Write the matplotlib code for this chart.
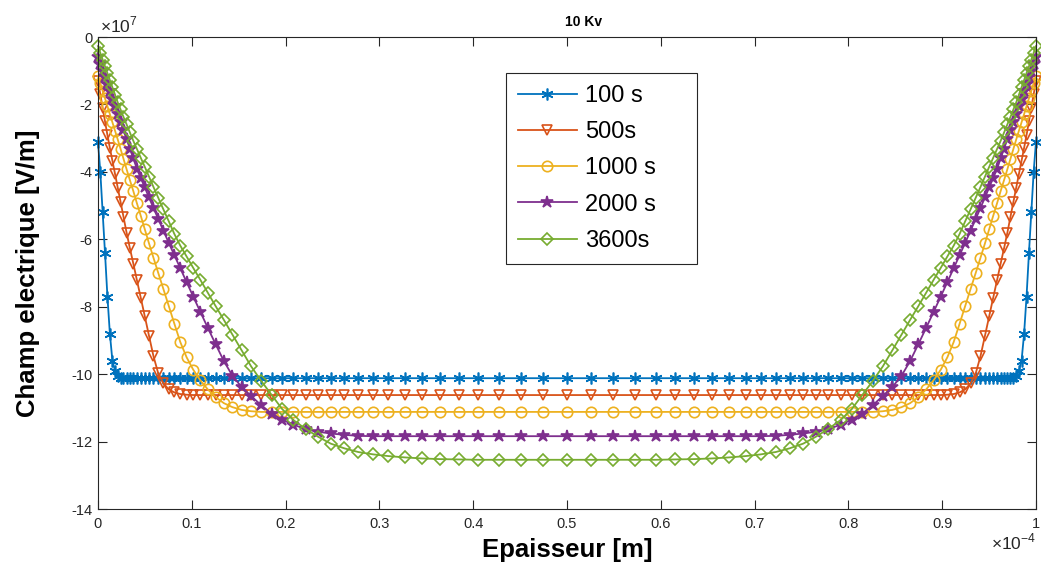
import matplotlib.pyplot as plt
from matplotlib.ticker import FixedLocator, FixedFormatter

plt.rcParams['font.family'] = ['Liberation Sans', 'DejaVu Sans']
plt.rcParams['mathtext.fontset'] = 'custom'
plt.rcParams['mathtext.rm'] = 'Liberation Sans'
plt.rcParams['axes.unicode_minus'] = False

# mesh over the first half of the sample (x in 1e-4 m), the field is symmetric
x_half = [0.0, 0.0025, 0.0050, 0.0075, 0.0101, 0.0127, 0.0154, 0.0182, 0.0211, 0.0241,
          0.0272, 0.0305, 0.0340, 0.0377, 0.0415, 0.0456, 0.0499, 0.0544, 0.0592, 0.0643,
          0.0697, 0.0754, 0.0814, 0.0878, 0.0945, 0.1016, 0.1091, 0.1170, 0.1254, 0.1342,
          0.1434, 0.1531, 0.1633, 0.1740, 0.1852, 0.1965, 0.2082, 0.2217, 0.2349, 0.2481,
          0.2626, 0.2775, 0.2935, 0.3095, 0.3273, 0.3451, 0.3646, 0.3852, 0.4054, 0.4278,
          0.4510, 0.4747, 0.5000]

# electric field (1e7 V/m) on that half mesh
e_100 = [-3.10, -4.00, -5.20, -6.40, -7.70, -8.80, -9.60, -9.90, -10.05, -10.10,
         -10.12, -10.12, -10.12, -10.12, -10.12, -10.12, -10.12, -10.12, -10.12, -10.12,
         -10.12, -10.12, -10.12, -10.12, -10.12, -10.12, -10.12, -10.12, -10.12, -10.12,
         -10.12, -10.12, -10.12, -10.12, -10.12, -10.12, -10.12, -10.12, -10.12, -10.12,
         -10.12, -10.12, -10.12, -10.12, -10.12, -10.12, -10.12, -10.12, -10.12, -10.12,
         -10.12, -10.12, -10.12]
e_500 = [-1.30, -1.70, -2.10, -2.50, -2.91, -3.29, -3.67, -4.06, -4.47, -4.89,
         -5.33, -5.80, -6.26, -6.72, -7.21, -7.73, -8.28, -8.86, -9.47, -9.98,
         -10.27, -10.45, -10.54, -10.59, -10.61, -10.62, -10.62, -10.62, -10.62, -10.62,
         -10.62, -10.62, -10.62, -10.62, -10.62, -10.62, -10.62, -10.62, -10.62, -10.62,
         -10.62, -10.62, -10.62, -10.62, -10.62, -10.62, -10.62, -10.62, -10.62, -10.62,
         -10.62, -10.62, -10.62]
e_1000 = [-1.15, -1.37, -1.60, -1.82, -2.05, -2.29, -2.53, -2.78, -3.04, -3.32,
          -3.61, -3.92, -4.24, -4.57, -4.93, -5.30, -5.70, -6.12, -6.55, -7.00,
          -7.47, -7.97, -8.50, -9.05, -9.50, -9.87, -10.18, -10.45, -10.68, -10.86,
          -10.98, -11.06, -11.10, -11.12, -11.12, -11.12, -11.12, -11.12, -11.12, -11.12,
          -11.12, -11.12, -11.12, -11.12, -11.12, -11.12, -11.12, -11.12, -11.12, -11.12,
          -11.12, -11.12, -11.12]
e_2000 = [-0.60, -0.80, -1.00, -1.20, -1.40, -1.61, -1.83, -2.05, -2.28, -2.52,
          -2.77, -3.03, -3.31, -3.60, -3.91, -4.18, -4.46, -4.76, -5.07, -5.40,
          -5.74, -6.10, -6.47, -6.86, -7.27, -7.70, -8.15, -8.62, -9.11, -9.61,
          -10.05, -10.38, -10.65, -10.92, -11.17, -11.35, -11.50, -11.63, -11.71, -11.76,
          -11.80, -11.83, -11.84, -11.84, -11.84, -11.84, -11.84, -11.84, -11.84, -11.84,
          -11.84, -11.84, -11.84]
e_3600 = [-0.27, -0.47, -0.67, -0.87, -1.07, -1.28, -1.49, -1.71, -1.94, -2.15,
          -2.37, -2.59, -2.83, -3.08, -3.32, -3.58, -3.85, -4.14, -4.45, -4.77,
          -5.11, -5.46, -5.84, -6.19, -6.51, -6.85, -7.20, -7.58, -7.98, -8.39,
          -8.83, -9.29, -9.77, -10.20, -10.62, -11.04, -11.36, -11.63, -11.86, -12.06,
          -12.20, -12.31, -12.38, -12.43, -12.47, -12.50, -12.52, -12.53, -12.54, -12.54,
          -12.54, -12.54, -12.54]

labels = ['100 s', '500s', '1000 s', '2000 s', '3600s']
colors = ['#0072BD', '#D95319', '#EDB120', '#7E2F8E', '#77AC30']
markers = [(6, 2, 0), 'v', 'o', '*', 'D']
msizes = [8.5, 7.5, 7.5, 9, 6.5]
faces = ['none', 'none', 'none', '#7E2F8E', 'none']
series = [e_100, e_500, e_1000, e_2000, e_3600]

# full thickness: mirror the half mesh
x_full = x_half + [1.0 - v for v in x_half[-2::-1]]

fig = plt.figure(figsize=(10.41, 5.65), dpi=100)
ax = fig.add_axes([0.0941, 0.0991, 0.9011, 0.8354])

for e, lab, c, m, ms, fc in zip(series, labels, colors, markers, msizes, faces):
    y_full = e + e[-2::-1]
    ax.plot(x_full, y_full, color=c, lw=1.3, marker=m, markersize=ms,
            markerfacecolor=fc, markeredgecolor=c, markeredgewidth=1.2,
            label=lab, clip_on=False)

ax.set_xlim(0, 1)
ax.set_ylim(-14, 0)
xt = [0, 0.1, 0.2, 0.3, 0.4, 0.5, 0.6, 0.7, 0.8, 0.9, 1]
yt = [-14, -12, -10, -8, -6, -4, -2, 0]
ax.xaxis.set_major_locator(FixedLocator(xt))
ax.xaxis.set_major_formatter(FixedFormatter(['0', '0.1', '0.2', '0.3', '0.4', '0.5',
                                             '0.6', '0.7', '0.8', '0.9', '1']))
ax.yaxis.set_major_locator(FixedLocator(yt))
ax.yaxis.set_major_formatter(FixedFormatter([str(v) for v in yt]))

grey = '#262626'
for s in ax.spines.values():
    s.set_color(grey)
    s.set_linewidth(0.8)
ax.tick_params(direction='in', length=6.5, width=0.8, color=grey, labelcolor=grey,
               labelsize=10.5, top=True, right=True)
ax.tick_params(axis='x', pad=6)
ax.tick_params(axis='y', pad=4)

ax.set_xlabel('Epaisseur [m]', fontsize=18.5, fontweight='bold')
ax.set_ylabel('Champ electrique [V/m]', fontsize=18.5, fontweight='bold')
ax.xaxis.set_label_coords(0.5, -0.062)
ax.yaxis.set_label_coords(-0.062, 0.5)
ax.set_title('10 Kv', fontsize=10, fontweight='bold', x=0.5176, pad=8)

ax.text(0.002, 1.004, r'$\times10^{7}$', transform=ax.transAxes, ha='left',
        va='bottom', fontsize=12.5, color=grey)
ax.text(1.0, -0.085, r'$\times10^{-4}$', transform=ax.transAxes, ha='right',
        va='baseline', fontsize=12.5, color=grey)

leg = ax.legend(loc='upper left', bbox_to_anchor=(0.4347, 0.5, 0.204, 0.423),
                mode='expand', borderaxespad=0, fontsize=17, handlelength=2.5,
                handletextpad=0.35, labelspacing=0.6, borderpad=0.5,
                fancybox=False, framealpha=1, edgecolor=grey)
leg.get_frame().set_linewidth(0.8)

fig.savefig('out.png', dpi=100)
